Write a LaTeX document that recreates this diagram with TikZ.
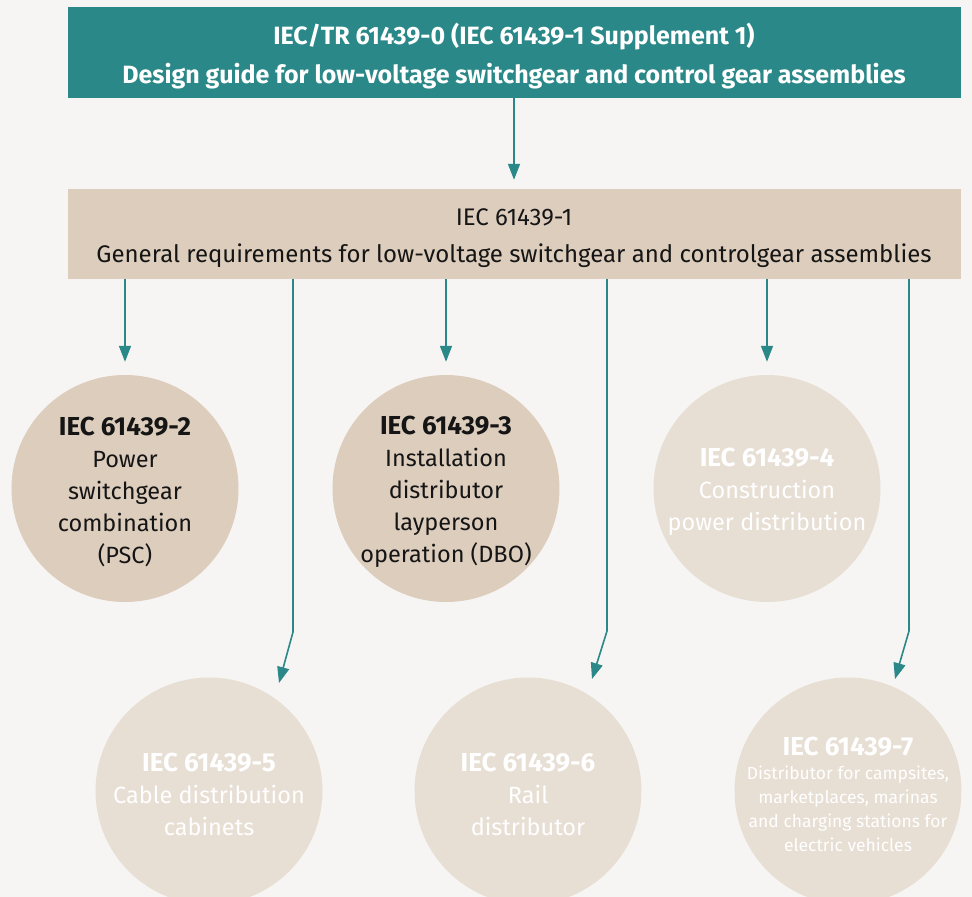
\documentclass[tikz,border=0pt]{standalone}
\usepackage{fontspec}
\setmainfont{Fira Sans}
\usetikzlibrary{arrows.meta,positioning,calc}
\definecolor{iecteal}{HTML}{2A8888}
\definecolor{sand}{HTML}{DDCDBD}
\definecolor{sandlight}{HTML}{E7DED4}
\definecolor{paper}{HTML}{F6F5F3}
\definecolor{ink}{HTML}{151515}
\newcommand{\bodysize}{\fontsize{23.5}{32}\selectfont}
\newcommand{\iecname}[1]{{\fontsize{26}{32}\selectfont\bfseries #1}}
% circle with its text set a little low, as in the leaflet
\newcommand{\iecpart}[5]{
	\node[part=#3] (#1) at (#2) {};
	\node[parttext, #4] (#1text) at ([yshift=-3pt]#1) {#5};
}

\begin{document}
\begin{tikzpicture}[x=1pt,y=-1pt,
	headbox/.style={fill=iecteal, minimum width=893pt, minimum height=91pt},
	headtext/.style={text=white, align=center, font=\fontsize{25}{39}\selectfont\bfseries},
	genbox/.style={fill=sand, minimum width=893pt, minimum height=90pt},
	gentext/.style={text=ink, align=center, font=\fontsize{24}{37}\selectfont},
	part/.style={circle, fill=#1, minimum size=227pt, inner sep=0pt},
	parttext/.style={align=center, inner sep=0pt, font=\bodysize},
	flow/.style={draw=iecteal, line width=1.6pt, -{Triangle[width=12pt,length=16pt]}}]

	\useasboundingbox (0,0) rectangle (972,897);
	\clip (0,0) rectangle (972,897);
	\fill[paper] (0,0) rectangle (972,897);

	\node[headbox] (guide) at (514,52.5) {};
	\node[headtext] (guidetext) at ([yshift=-4pt]guide) {IEC/TR 61439-0 (IEC 61439-1 Supplement 1)\\Design guide for low-voltage switchgear and control gear assemblies};
	\node[genbox] (general) at (514,234) {};
	\node[gentext] (generaltext) at ([yshift=-4pt]general) {IEC 61439-1\\General requirements for low-voltage switchgear and controlgear assemblies};

	% first row
	\iecpart{p2}{125,488.5}{sand}{text=ink}{\iecname{IEC 61439-2}\\Power\\switchgear\\combination\\(PSC)}
	\iecpart{p3}{446,488.5}{sand}{text=ink}{\iecname{IEC 61439-3}\\Installation\\distributor\\layperson\\operation (DBO)}
	\iecpart{p4}{767,488.5}{sandlight}{text=white}{\iecname{IEC 61439-4}\\Construction\\power distribution}

	% second row
	\iecpart{p5}{209,791}{sandlight}{text=white}{\iecname{IEC 61439-5}\\Cable distribution\\cabinets}
	\iecpart{p6}{528,791}{sandlight}{text=white}{\iecname{IEC 61439-6}\\Rail\\distributor}
	\iecpart{p7}{848,791}{sandlight}{text=white, font=\fontsize{17.5}{24}\selectfont}{\iecname{IEC 61439-7}\\Distributor for campsites,\\marketplaces, marinas\\and charging stations for\\electric vehicles}

	\coordinate (k5) at (293,632);
	\coordinate (t5) at (279,683);
	\coordinate (k6) at (607,631);
	\coordinate (t6) at (592,679);
	\coordinate (k7) at (909,631);
	\coordinate (t7) at (895,679);

	\draw[flow, shorten >=9pt] (guide) -- (general);
	\draw[flow, shorten >=13pt] (general.south -| p2) -- (p2);
	\draw[flow, shorten >=13pt] (general.south -| p3) -- (p3);
	\draw[flow, shorten >=13pt] (general.south -| p4) -- (p4);
	\draw[flow] (general.south -| k5) -- (k5) -- (t5);
	\draw[flow] (general.south -| k6) -- (k6) -- (t6);
	\draw[flow] (general.south -| k7) -- (k7) -- (t7);

\end{tikzpicture}
\end{document}
